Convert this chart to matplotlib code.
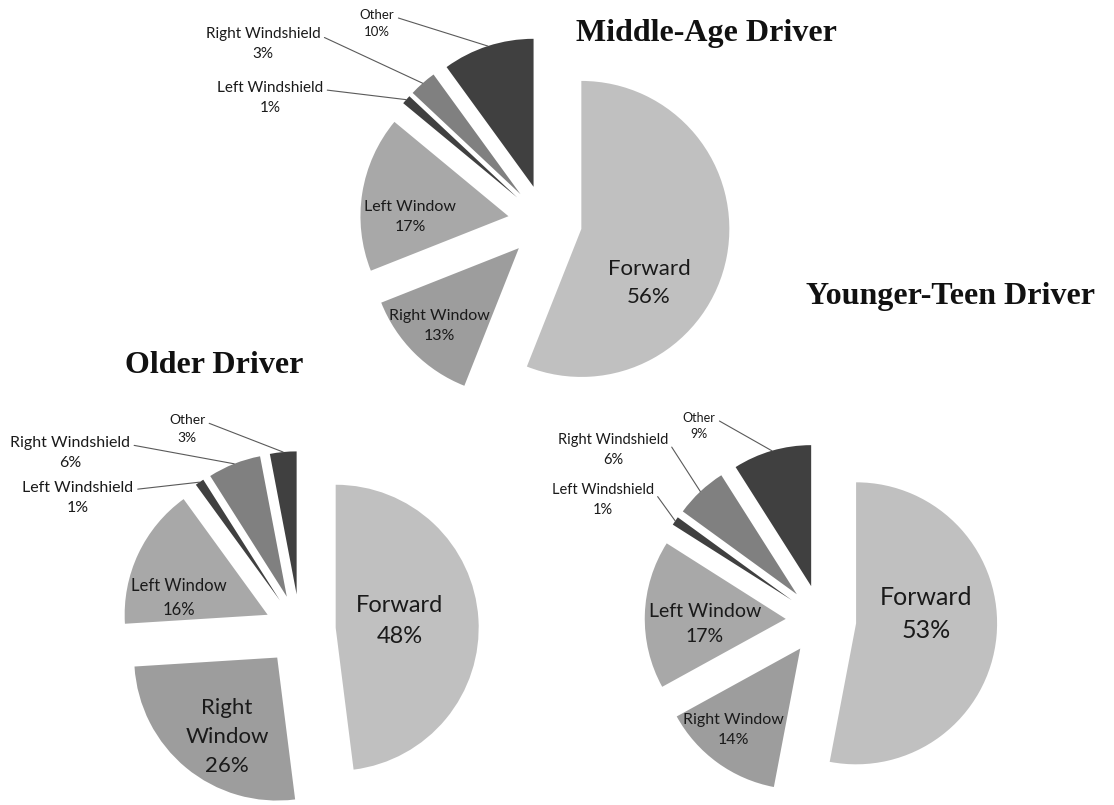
import numpy as np
import matplotlib.pyplot as plt

W, H = 1114, 805

# data
categories = ["Forward", "Right Window", "Left Window", "Left Windshield", "Right Windshield", "Other"]
middle_age = [56, 13, 17, 1, 3, 10]
older = [48, 26, 16, 1, 6, 3]
younger_teen = [53, 14, 17, 1, 6, 9]
colors = ["#c0c0c0", "#9d9d9d", "#a8a8a8", "#404040", "#808080", "#404040"]

# layout in pixel coords of the picture (y from the top)
# inner labels: name -> (x, y, fontsize, word separator)
# outer labels: name -> (x, y, fontsize)
charts = [
    {"title": "Middle-Age Driver", "values": middle_age, "center": (545, 222), "radius": 148,
     "title_xy": (706, 34),
     "inner": {"Forward": (649, 283, 16, " "), "Left Window": (410, 217, 11.5, " "),
               "Right Window": (439, 326, 11.5, " ")},
     "outer": {"Left Windshield": (270, 98, 11), "Right Windshield": (263, 44, 11), "Other": (377, 24, 9.5)}},
    {"title": "Older Driver", "values": older, "center": (300, 630), "radius": 143,
     "title_xy": (214, 366),
     "inner": {"Forward": (400, 621, 17, " "), "Left Window": (179, 598, 12, " "),
               "Right Window": (227, 737, 16, "\n")},
     "outer": {"Left Windshield": (78, 498, 11.5), "Right Windshield": (70, 453, 11.5), "Other": (187, 429, 10)}},
    {"title": "Younger-Teen Driver", "values": younger_teen, "center": (821, 620), "radius": 141,
     "title_xy": (951, 297),
     "inner": {"Forward": (926, 614, 18, " "), "Left Window": (705, 624, 14, " "),
               "Right Window": (733, 730, 11.5, " ")},
     "outer": {"Left Windshield": (603, 500, 10.5), "Right Windshield": (613, 450, 10.5), "Other": (699, 426, 9)}},
]

plt.rcParams["font.family"] = ["Lato", "DejaVu Sans"]

fig = plt.figure(figsize=(W / 100, H / 100), dpi=100)
ax = fig.add_axes([0, 0, 1, 1])

for ch in charts:
    cx, cy = ch["center"]
    r = ch["radius"]
    wedges, _ = ax.pie(ch["values"], explode=[0.25 * r] * len(categories), radius=r,
                       center=(cx, H - cy), startangle=90, counterclock=False,
                       colors=colors, wedgeprops=dict(linewidth=0), frame=True)

    ax.text(ch["title_xy"][0], H - ch["title_xy"][1], ch["title"], ha="center", va="center",
            fontsize=23, fontweight="bold", family="Liberation Serif", color="#111111")

    for name, w, v in zip(categories, wedges, ch["values"]):
        if name in ch["inner"]:
            x, y, fs, sep = ch["inner"][name]
            label = name.replace(" ", sep)
            ax.text(x, H - y, f"{label}\n{v}%", ha="center", va="center", fontsize=fs,
                    color="#1a1a1a", linespacing=1.55)
        else:
            x, y, fs = ch["outer"][name]
            mid = np.deg2rad((w.theta1 + w.theta2) / 2)
            px = w.center[0] + w.r * np.cos(mid)
            py = w.center[1] + w.r * np.sin(mid)
            ax.annotate(f"{name}\n{v}%", xy=(px, py), xytext=(x, H - y), ha="center", va="center",
                        fontsize=fs, color="#1a1a1a", linespacing=1.5,
                        arrowprops=dict(arrowstyle="-", color="#5a5a5a", lw=0.8,
                                        shrinkA=1, shrinkB=0, relpos=(1, 0.75)))

ax.set_xlim(0, W)
ax.set_ylim(0, H)
ax.set_aspect("equal")
ax.set_axis_off()

plt.savefig("out.png", dpi=100)
